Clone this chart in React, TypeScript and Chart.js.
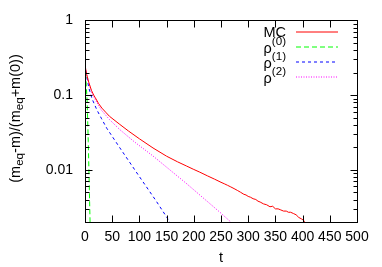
import React, { useEffect, useRef } from "react";
import { Chart, registerables } from "chart.js";

Chart.register(...registerables);

// ---------- data ----------
const mcT = [0, 3, 7, 12, 16, 19, 25, 31, 38, 45, 64, 80, 100, 125, 150, 170, 187, 200, 211, 225, 238, 250, 256, 262, 268, 274, 280, 286, 292, 296, 300, 304, 309, 314, 318, 322, 328, 334, 340, 345, 350, 355, 360, 365, 370, 374, 378, 383, 388, 393, 398, 402, 405, 407];
const mcV = [0.25, 0.19, 0.148, 0.115, 0.1, 0.092, 0.077, 0.067, 0.059, 0.052, 0.0405, 0.033, 0.026, 0.0196, 0.0152, 0.0128, 0.0112, 0.0101, 0.0093, 0.0083, 0.0075, 0.0068, 0.0065, 0.0062, 0.0059, 0.0056, 0.0053, 0.0050, 0.0047, 0.0046, 0.0044, 0.0043, 0.0041, 0.0040, 0.0038, 0.0037, 0.0035, 0.0034, 0.0032, 0.00325, 0.0030, 0.0030, 0.0029, 0.0028, 0.0028, 0.0027, 0.0027, 0.0026, 0.0025, 0.0023, 0.0022, 0.0021, 0.0019, 0.0017];

const rho0T = [0, 2, 4, 6, 8, 9, 10];
const rho0V = [0.25, 0.15, 0.08, 0.024, 0.0055, 0.0025, 0.0012];

const rho1T = [0, 3, 7, 13, 22, 30, 40, 64, 100, 130, 156, 165];
const rho1V = [0.25, 0.18, 0.125, 0.089, 0.063, 0.049, 0.036, 0.0197, 0.0081, 0.0039, 0.002, 0.0016];

const rho2T = [0, 3, 7, 12, 16, 20, 30, 45, 64, 90, 125, 187, 248, 268, 280];
const rho2V = [0.25, 0.19, 0.145, 0.11, 0.095, 0.084, 0.063, 0.047, 0.0345, 0.0239, 0.0153, 0.0065, 0.0027, 0.002, 0.0017];

const xTickValues = [0, 50, 100, 150, 200, 250, 300, 350, 400, 450, 500];
const yTickValues = [0.01, 0.1, 1];
const yTickLabels = ["0.01", "0.1", "1"];

const seriesNames = ["MC", "ρ", "ρ", "ρ"];
const seriesSups = ["", "(0)", "(1)", "(2)"];
const seriesColors = ["#ff0000", "#00ff00", "#0000ff", "#ff00ff"];
const seriesDashes: number[][] = [[], [5, 3], [3, 3], [1, 1.5]];

const FONT = "'Liberation Sans', Arial, sans-serif";

function toPts(t: number[], v: number[]) {
  return t.map((x, i) => ({ x, y: v[i] }));
}

const decorPlugin = {
  id: "decor",
  afterDraw(chart: any) {
    const ctx = chart.ctx;
    const xs = chart.scales.x;
    const ys = chart.scales.y;
    const L = Math.round(chart.chartArea.left) + 0.5;
    const R = Math.round(chart.chartArea.right) + 0.5;
    const T = Math.round(chart.chartArea.top) + 0.5;
    const B = Math.round(chart.chartArea.bottom) + 0.5;
    ctx.save();
    ctx.strokeStyle = "#000";
    ctx.lineWidth = 1;
    ctx.setLineDash([]);
    ctx.strokeRect(L, T, R - L, B - T);
    const major = 7;
    const minor = 4;
    ctx.beginPath();
    xTickValues.forEach((v) => {
      const px = Math.round(xs.getPixelForValue(v)) + 0.5;
      ctx.moveTo(px, B);
      ctx.lineTo(px, B - major);
      ctx.moveTo(px, T);
      ctx.lineTo(px, T + major);
    });
    yTickValues.forEach((v) => {
      const py = Math.round(ys.getPixelForValue(v)) + 0.5;
      ctx.moveTo(L, py);
      ctx.lineTo(L + major, py);
      ctx.moveTo(R, py);
      ctx.lineTo(R - major, py);
    });
    for (let k = -3; k <= -1; k++) {
      for (let d = 2; d <= 9; d++) {
        const v = d * Math.pow(10, k);
        if (v < ys.min || v > ys.max) continue;
        const py = Math.round(ys.getPixelForValue(v)) + 0.5;
        ctx.moveTo(L, py);
        ctx.lineTo(L + minor, py);
        ctx.moveTo(R, py);
        ctx.lineTo(R - minor, py);
      }
    }
    ctx.stroke();

    // legend
    const mainSize = 14.5;
    const supSize = 11.6;
    const textRight = 286;
    const lineX0 = 296;
    const lineX1 = 338;
    ctx.textBaseline = "alphabetic";
    ctx.textAlign = "left";
    seriesNames.forEach((name, i) => {
      const rowY = 32 + i * 14.9;
      ctx.fillStyle = "#000";
      ctx.font = `${mainSize}px ${FONT}`;
      const w1 = ctx.measureText(name).width;
      ctx.font = `${supSize}px ${FONT}`;
      const w2 = seriesSups[i] ? ctx.measureText(seriesSups[i]).width : 0;
      const x0 = textRight - w1 - w2;
      ctx.font = `${mainSize}px ${FONT}`;
      ctx.fillText(name, x0, rowY + (seriesSups[i] ? 6 : 5));
      if (seriesSups[i]) {
        ctx.font = `${supSize}px ${FONT}`;
        ctx.fillText(seriesSups[i], x0 + w1, rowY - 1.5);
      }
      ctx.beginPath();
      ctx.lineWidth = 1;
      ctx.strokeStyle = seriesColors[i];
      ctx.setLineDash(seriesDashes[i]);
      const ly = Math.round(rowY);
      ctx.moveTo(lineX0, ly);
      ctx.lineTo(lineX1, ly);
      ctx.stroke();
    });
    ctx.setLineDash([]);

    // y axis title with subscripts
    ctx.fillStyle = "#000";
    const segs: [string, boolean][] = [
      ["(m", false],
      ["eq", true],
      ["-m)/(m", false],
      ["eq", true],
      ["+m(0))", false],
    ];
    let total = 0;
    const widths = segs.map(([s, sub]) => {
      ctx.font = `${sub ? supSize : mainSize}px ${FONT}`;
      const w = ctx.measureText(s).width;
      total += w;
      return w;
    });
    ctx.translate(19.5, 118.5);
    ctx.rotate(-Math.PI / 2);
    let cx = -total / 2;
    segs.forEach(([s, sub], i) => {
      ctx.font = `${sub ? supSize : mainSize}px ${FONT}`;
      ctx.fillText(s, cx, sub ? 3.5 : 0);
      cx += widths[i];
    });
    ctx.restore();
  },
};

export default function App() {
  const ref = useRef<HTMLCanvasElement | null>(null);
  useEffect(() => {
    if (!ref.current) return;
    const all = [toPts(mcT, mcV), toPts(rho0T, rho0V), toPts(rho1T, rho1V), toPts(rho2T, rho2V)];
    const chart = new Chart(ref.current, {
      type: "line",
      data: {
        datasets: all.map((d, i) => ({
          label: seriesNames[i] + seriesSups[i],
          data: d,
          borderColor: seriesColors[i],
          borderWidth: 1,
          borderDash: seriesDashes[i],
          pointRadius: 0,
          tension: 0,
          fill: false,
        })),
      },
      options: {
        responsive: false,
        animation: false,
        events: [],
        layout: { padding: { top: 17, right: 25, left: 0, bottom: 0 } },
        plugins: { legend: { display: false }, tooltip: { enabled: false }, title: { display: false } },
        scales: {
          x: {
            type: "linear",
            min: 0,
            max: 500,
            grid: { display: false, drawTicks: false },
            border: { display: false },
            afterBuildTicks: (s: any) => {
              s.ticks = xTickValues.map((v) => ({ value: v }));
            },
            afterFit: (s: any) => {
              s.height = 45;
            },
            ticks: {
              autoSkip: false,
              maxRotation: 0,
              minRotation: 0,
              padding: 7,
              color: "#000",
              font: { family: FONT, size: 14 },
              callback: (v: any) => String(v),
            },
            title: {
              display: true,
              text: "t",
              color: "#000",
              padding: 0,
              font: { family: FONT, size: 14.5 },
            },
          },
          y: {
            type: "logarithmic",
            min: 0.002,
            max: 1,
            grid: { display: false, drawTicks: false },
            border: { display: false },
            afterBuildTicks: (s: any) => {
              s.ticks = yTickValues.map((v) => ({ value: v }));
            },
            afterFit: (s: any) => {
              s.width = 85;
            },
            ticks: {
              autoSkip: false,
              padding: 12,
              color: "#000",
              font: { family: FONT, size: 14 },
              callback: (v: any) => {
                const i = yTickValues.findIndex((t) => Math.abs(t - v) < 1e-9);
                return i >= 0 ? yTickLabels[i] : "";
              },
            },
          },
        },
      },
      plugins: [decorPlugin],
    } as any);
    return () => chart.destroy();
  }, []);
  return (
    <div style={{ position: "fixed", left: 0, top: 0, width: 382, height: 267, background: "#fff" }}>
      <canvas ref={ref} width={382} height={267} style={{ display: "block" }} />
    </div>
  );
}
